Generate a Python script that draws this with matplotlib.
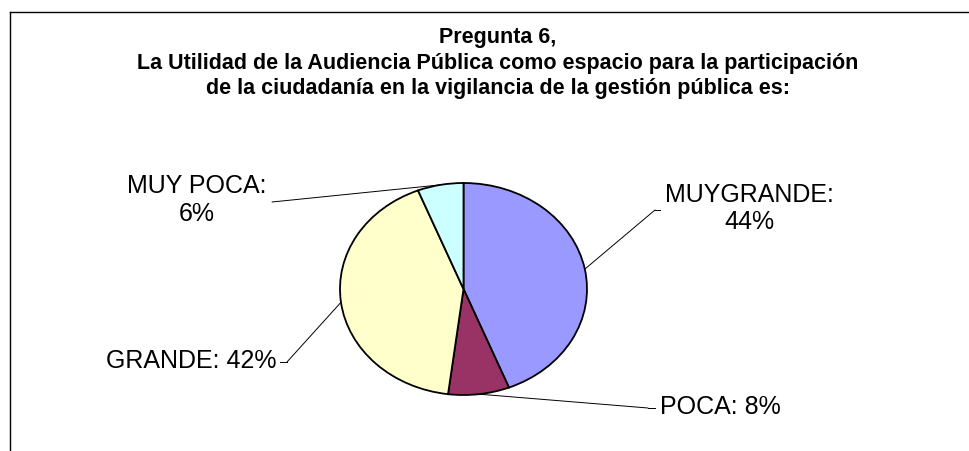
"""
Pie chart: Pregunta 6 - utilidad de la Audiencia Publica.
"""

import matplotlib
matplotlib.use("Agg")
import matplotlib.pyplot as plt
import numpy as np
from matplotlib.lines import Line2D

categories = ["MUYGRANDE", "POCA", "GRANDE", "MUY POCA"]
shares = [44, 8, 42, 6]
colors = ["#9999FF", "#993366", "#FFFFCC", "#CCFFFF"]
title_lines = [
    "Pregunta 6,",
    "La Utilidad de la Audiencia Pública como espacio para la participación",
    "de la ciudadanía en la vigilancia de la gestión pública es:",
]

W, H = 970, 451
plt.rcParams["font.family"] = ["Liberation Sans", "DejaVu Sans"]


def fx(x):
    return x / W


def fy(y):
    return 1 - y / H


fig = plt.figure(figsize=(W / 100, H / 100), dpi=100)

# chart frame (only top and left edges are visible in the crop)
fig.add_artist(Line2D([fx(10), fx(970)], [fy(11.5), fy(11.5)], color="black", lw=1.0))
fig.add_artist(Line2D([fx(10), fx(10)], [fy(11.5), fy(451)], color="black", lw=1.0))

# title
for i, line in enumerate(title_lines):
    fig.text(fx(498), fy(38 + 25.5 * i), line, ha="center", va="center",
             fontsize=15.5, fontweight="bold")

# pie (elliptical, as in the original)
cx, cy, rx, ry = 463.5, 289, 123.5, 106
ax = fig.add_axes([fx(cx - rx), fy(cy + ry), 2 * rx / W, 2 * ry / H])
ax.pie(shares, colors=colors, startangle=90, counterclock=False,
       wedgeprops=dict(edgecolor="black", linewidth=1.3))
ax.set_aspect("auto")
ax.set_xlim(-1, 1)
ax.set_ylim(-1, 1)
ax.axis("off")

# label placement: (text x, text y, ha, elbow, end of tick)
label_pos = {
    "MUYGRANDE": (749, 208.5, "center", (655, 210), (660, 210)),
    "POCA": (660, 407, "left", (648, 408), (655, 408)),
    "GRANDE": (277, 361.5, "right", (287, 362), (280, 362)),
    "MUY POCA": (197, 200, "center", (272, 202), (272, 202)),
}
label_text = {
    "MUYGRANDE": "MUYGRANDE:\n44%",
    "POCA": "POCA: 8%",
    "GRANDE": "GRANDE: 42%",
    "MUY POCA": "MUY POCA:\n6%",
}

cum = np.cumsum([0] + shares)
total = cum[-1]
for i, cat in enumerate(categories):
    mid = np.deg2rad((cum[i] + cum[i + 1]) / 2 / total * 360)
    ex, ey = np.sin(mid), np.cos(mid)
    tx, ty, ha, elbow, tick = label_pos[cat]
    ax.annotate("", xy=(ex, ey), xycoords="data",
                xytext=(fx(elbow[0]), fy(elbow[1])), textcoords="figure fraction",
                arrowprops=dict(arrowstyle="-", color="black", lw=0.7,
                                shrinkA=0, shrinkB=0))
    fig.add_artist(Line2D([fx(elbow[0]), fx(tick[0])], [fy(elbow[1]), fy(tick[1])],
                          color="black", lw=0.7))
    fig.text(fx(tx), fy(ty), label_text[cat], ha=ha, va="center",
             multialignment="center", fontsize=18, linespacing=1.2)

fig.savefig("out.png", dpi=100)
